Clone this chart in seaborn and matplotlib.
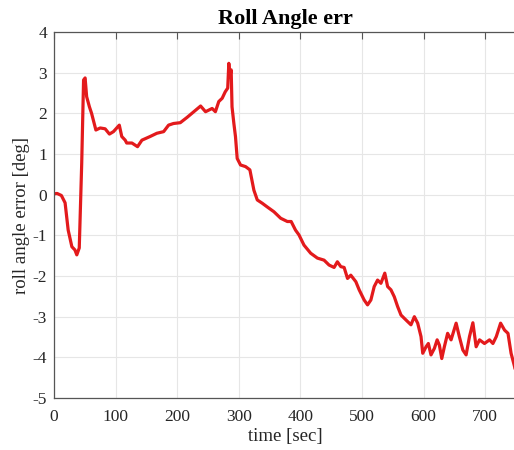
import matplotlib
matplotlib.use("Agg")
import matplotlib.pyplot as plt
import seaborn as sns
import pandas as pd

time_sec = [0, 5, 12, 18, 23, 29, 34, 37, 41, 45, 48, 50.5, 53, 57.5, 61, 68, 75, 83, 90, 96.5,
            106, 110, 115.6, 118, 126.5, 135.6, 142.7, 156, 167, 178, 186, 194, 205, 216, 227,
            238, 246, 256.7, 262, 267.5, 273, 278, 282, 283.8, 285.4, 287.6, 289, 292, 294.6,
            297.4, 302.8, 311, 318, 324.5, 330, 338, 346, 357, 368, 378.8, 385, 392, 397.7,
            405.8, 416.7, 427.6, 438.4, 446.5, 454.7, 460, 465.6, 471, 476.5, 481.8, 490, 495.4,
            503.5, 509, 514.4, 519.8, 525.3, 530.7, 537, 541.6, 547, 552.4, 557.8, 563.3, 568.6,
            574, 579.5, 585, 590.4, 595.8, 598.6, 604, 607.7, 612, 617.5, 622, 625.6, 629.5,
            633.7, 639, 644.6, 652.8, 658, 663.7, 669, 674.5, 680, 685.3, 690.8, 698.8, 707,
            712.5, 718, 725, 731.4, 737, 742, 747.7, 750]
roll_err = [0.02, 0.03, -0.02, -0.2, -0.87, -1.28, -1.36, -1.48, -1.31, 0.78, 2.82, 2.87, 2.41,
            2.16, 2.0, 1.59, 1.64, 1.62, 1.49, 1.55, 1.71, 1.43, 1.34, 1.27, 1.27, 1.18, 1.34,
            1.43, 1.51, 1.55, 1.71, 1.75, 1.77, 1.90, 2.04, 2.18, 2.04, 2.12, 2.04, 2.29, 2.37,
            2.53, 2.62, 3.23, 2.90, 3.07, 2.16, 1.75, 1.43, 0.89, 0.73, 0.69, 0.61, 0.11, -0.13,
            -0.21, -0.30, -0.42, -0.58, -0.66, -0.66, -0.87, -0.99, -1.24, -1.44, -1.56, -1.61,
            -1.73, -1.79, -1.65, -1.77, -1.79, -2.06, -1.98, -2.14, -2.34, -2.59, -2.71, -2.59,
            -2.26, -2.10, -2.18, -1.93, -2.26, -2.34, -2.51, -2.75, -2.96, -3.04, -3.12, -3.20,
            -3.00, -3.16, -3.49, -3.90, -3.74, -3.66, -3.94, -3.78, -3.57, -3.70, -4.03, -3.74,
            -3.41, -3.57, -3.16, -3.49, -3.82, -3.94, -3.49, -3.15, -3.74, -3.57, -3.66, -3.57,
            -3.66, -3.49, -3.16, -3.33, -3.41, -3.90, -4.23, -4.40]

x_ticks = [0, 100, 200, 300, 400, 500, 600, 700]
y_ticks = [-5, -4, -3, -2, -1, 0, 1, 2, 3, 4]

sns.set_theme(style="whitegrid")
plt.rcParams['font.family'] = ['Liberation Serif', 'DejaVu Serif']

df = pd.DataFrame({"time": time_sec, "err": roll_err})

fig = plt.figure(figsize=(5.14, 4.5), dpi=100)
ax = fig.add_axes([54/514, 52/450, 462/514, 366/450])
sns.lineplot(data=df, x="time", y="err", ax=ax, color="#e31a1c", linewidth=2.3, sort=False)

ax.set_xlim(0, 750)
ax.set_ylim(-5, 4)
ax.set_xticks(x_ticks)
ax.set_yticks(y_ticks)
ax.set_xticklabels([str(v) for v in x_ticks])
ax.set_yticklabels([str(v) for v in y_ticks])
ax.grid(True, color="#e6e6e6", linewidth=0.8)
for side in ["left", "bottom", "top"]:
    ax.spines[side].set_visible(True)
    ax.spines[side].set_color("#555555")
    ax.spines[side].set_linewidth(0.9)
ax.spines["right"].set_visible(False)
ax.tick_params(axis="both", direction="in", length=5, width=0.8, colors="#555555",
               labelsize=12.5, labelcolor="#262626", top=True, right=False)
ax.tick_params(axis="x", pad=8)
ax.tick_params(axis="y", pad=5)
ax.set_xlabel("time [sec]", fontsize=13.5, color="#262626", labelpad=2)
ax.set_ylabel("roll angle error [deg]", fontsize=13.5, color="#262626", labelpad=2)
ax.set_title("Roll Angle err", fontsize=16, fontweight="bold", color="black", pad=6)

fig.savefig("out.png", dpi=100)
